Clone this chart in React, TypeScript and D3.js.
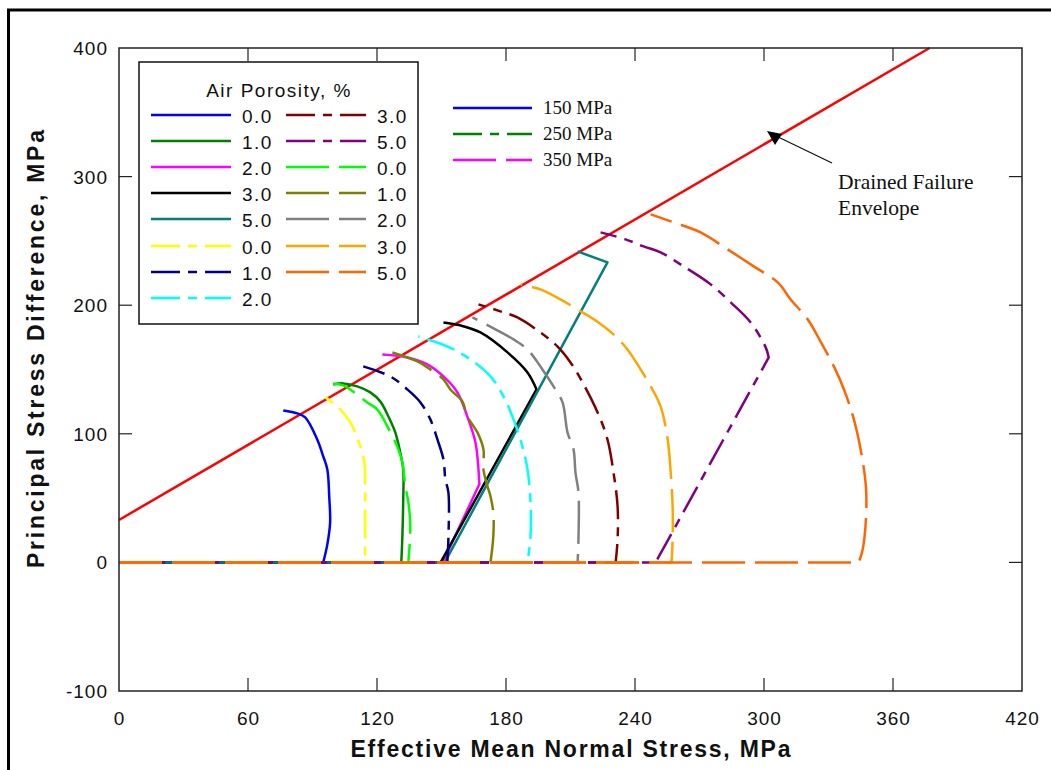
import React from "react";
import * as d3 from "d3";

// ---------- data (MPa) ----------
type Pt = [number, number];

// 150 MPa (solid)
const s150_0: Pt[] = [[0, 0], [95.0, 0], [96.9, 14.0], [98.2, 31.1], [97.8, 50.5], [96.9, 72.3], [95.0, 82.4], [92.2, 95.6], [86.6, 112.8], [82.9, 115.9], [76.4, 118.2]];
const s150_1: Pt[] = [[0, 0], [131.3, 0], [131.8, 20.2], [132.2, 49.0], [132.2, 72.3], [130.8, 85.5], [128.5, 101.1], [125.3, 113.5], [121.5, 125.2], [116.9, 132.2], [110.8, 136.9], [104.3, 139.2], [99.6, 138.4]];
const s150_2: Pt[] = [[0, 0], [150.6, 0], [167.6, 60.7], [167.2, 72.3], [165.8, 93.3], [162.0, 113.5], [157.4, 132.2], [150.9, 144.6], [143.4, 154.0], [134.1, 159.4], [122.5, 161.7]];
const s150_3: Pt[] = [[0, 0], [149.6, 0], [194.2, 134.5], [190.0, 147.7], [180.7, 163.3], [168.1, 178.8], [158.8, 184.3], [150.9, 186.6]];
const s150_5: Pt[] = [[0, 0], [151.5, 0], [227.2, 233.3], [213.3, 241.8]];

// 250 MPa (dash-dot)
const s250_0: Pt[] = [[0, 0], [114.5, 0], [114.5, 33.4], [114.5, 59.1], [114.1, 77.8], [112.2, 90.2], [107.6, 108.9], [102.0, 120.5], [94.1, 130.6]];
const s250_1: Pt[] = [[0, 0], [152.7, 0], [153.2, 17.9], [153.2, 54.4], [151.8, 64.5], [150.9, 80.1], [148.1, 95.6], [144.8, 111.2], [140.2, 124.4], [134.1, 134.5], [126.2, 144.6], [113.6, 152.4]];
const s250_2: Pt[] = [[0, 0], [190.0, 0], [191.4, 20.2], [191.4, 46.7], [190.0, 72.3], [187.6, 90.2], [183.5, 111.2], [178.8, 129.1], [172.8, 144.6], [163.4, 157.9], [152.7, 168.0], [139.2, 175.7]];
const s250_3: Pt[] = [[0, 0], [231.0, 0], [231.9, 17.9], [231.9, 43.5], [230.0, 70.0], [227.2, 95.6], [222.6, 116.6], [215.6, 140.0], [210.0, 155.5], [203.9, 168.0], [196.0, 178.8], [185.3, 190.5], [177.4, 195.2], [167.2, 200.6]];
const s250_5: Pt[] = [[0, 0], [249.6, 0], [302.2, 159.4], [300.8, 167.2], [293.8, 186.6], [284.5, 202.2], [275.2, 216.2], [262.6, 230.2], [251.9, 241.1], [244.0, 245.7], [235.6, 251.2], [224.0, 256.6]];

// 350 MPa (dashed)
const s350_0: Pt[] = [[0, 0], [134.6, 0], [135.5, 28.0], [134.6, 46.7], [133.2, 59.1], [131.8, 77.8], [129.4, 90.2], [124.8, 105.8], [120.1, 119.0], [115.5, 124.4], [104.3, 137.6], [99.6, 139.2]];
const s350_1: Pt[] = [[0, 0], [172.8, 0], [174.1, 20.2], [174.1, 38.9], [172.8, 51.3], [171.4, 59.1], [169.5, 72.3], [169.5, 87.9], [166.7, 101.1], [162.0, 113.5], [159.7, 125.2], [154.1, 134.5], [150.9, 142.3], [144.8, 150.1], [138.8, 156.3], [127.1, 163.3]];
const s350_2: Pt[] = [[0, 0], [213.3, 0], [213.7, 17.9], [213.7, 54.4], [212.3, 70.0], [211.4, 87.9], [208.6, 101.1], [206.3, 124.4], [202.1, 136.9], [196.0, 152.4], [190.0, 165.6], [183.5, 173.4], [175.1, 181.2], [164.4, 190.5]];
const s350_3: Pt[] = [[0, 0], [257.0, 0], [257.5, 17.9], [257.5, 43.5], [256.6, 70.0], [255.2, 95.6], [251.9, 121.3], [247.3, 136.9], [242.6, 150.1], [236.5, 165.6], [230.0, 177.3], [223.0, 186.6], [213.3, 196.7], [205.3, 204.5], [196.0, 212.3], [186.7, 216.2]];
const s350_5: Pt[] = [[0, 0], [344.1, 0], [345.9, 10.1], [347.4, 33.4], [347.4, 59.1], [345.2, 85.5], [341.8, 111.2], [337.2, 134.5], [332.5, 152.4], [326.5, 171.1], [320.3, 189.0], [312.4, 204.5], [306.4, 217.7], [295.2, 230.2], [283.1, 243.4], [270.5, 256.6], [258.0, 264.4], [247.3, 270.6]];

// Drained failure envelope
const envelope: Pt[] = [[0, 33], [377, 400]];

const porosityLabels = ["0.0", "1.0", "2.0", "3.0", "5.0"];
const pressureLabels = ["150 MPa", "250 MPa", "350 MPa"];
const colors150 = ["#0000FF", "#008000", "#FF00FF", "#000000", "#008080"];
const colors250 = ["#FFFF00", "#000080", "#00FFFF", "#800000", "#800080"];
const colors350 = ["#00FF00", "#808000", "#808080", "#FFA500", "#FF6600"];
const xTicks = [0, 60, 120, 180, 240, 300, 360, 420];
const yTicks = [-100, 0, 100, 200, 300, 400];

// ---------- styles ----------
const DASH_150 = "none";
const DASH_250 = "29 8 9 8";
const DASH_350 = "43 10";
const SANS = "'Liberation Sans', Arial, sans-serif";
const SERIF = "'Liberation Serif', 'Times New Roman', serif";

interface Series { pts: Pt[]; color: string; dash: string; label: string }

const series: Series[] = [
  ...[s150_0, s150_1, s150_2, s150_3, s150_5].map((p, i) => ({ pts: p, color: colors150[i], dash: DASH_150, label: porosityLabels[i] })),
  ...[s250_0, s250_1, s250_2, s250_3, s250_5].map((p, i) => ({ pts: p, color: colors250[i], dash: DASH_250, label: porosityLabels[i] })),
  ...[s350_0, s350_1, s350_2, s350_3, s350_5].map((p, i) => ({ pts: p, color: colors350[i], dash: DASH_350, label: porosityLabels[i] })),
];

export default function App() {
  const W = 1051, H = 770;
  const left = 119, right = 1022, top = 48, bottom = 691;
  const x = d3.scaleLinear().domain([0, 420]).range([left, right]);
  const y = d3.scaleLinear().domain([-100, 400]).range([bottom, top]);
  const lineLin = d3.line<Pt>().x(d => x(d[0])).y(d => y(d[1]));
  const lineCurve = d3.line<Pt>().x(d => x(d[0])).y(d => y(d[1])).curve(d3.curveCatmullRom.alpha(0.5));
  const tick = 13;
  const frameColor = "#222";

  // straight load legs (long segments) drawn linear, the rest smooth
  const pathFor = (pts: Pt[]) => {
    let k = 0;
    while (k < pts.length - 1) {
      const dx = pts[k + 1][0] - pts[k][0], dy = pts[k + 1][1] - pts[k][1];
      if (Math.hypot(dx, dy) > 30) k++; else break;
    }
    const a = lineLin(pts.slice(0, k + 1)) || "";
    if (k >= pts.length - 1) return a;
    const b = (lineCurve(pts.slice(k)) || "").replace(/^M/, "L");
    return a + b;
  };

  const legRows = [115, 141, 167, 193, 219, 246, 272, 298];
  const legendItems = series.map((s, i) => {
    const col = i < 8 ? 0 : 1;
    const row = i < 8 ? i : i - 8;
    return { ...s, col, row };
  });

  return (
    <svg width={W} height={H} style={{ position: "absolute", left: 0, top: 0, background: "#fff" }}>
      <rect x={0} y={0} width={W} height={H} fill="#fff" />
      {/* outer page border */}
      <line x1={7} y1={10} x2={W} y2={10} stroke="#000" strokeWidth={3} />
      <line x1={8.5} y1={10} x2={8.5} y2={H} stroke="#000" strokeWidth={3} />

      {/* ticks */}
      {xTicks.slice(1, -1).map(t => (
        <g key={"xt" + t}>
          <line x1={x(t)} x2={x(t)} y1={top} y2={top + tick} stroke={frameColor} strokeWidth={1.2} />
          <line x1={x(t)} x2={x(t)} y1={bottom} y2={bottom - tick} stroke={frameColor} strokeWidth={1.2} />
        </g>
      ))}
      {yTicks.slice(1, -1).map(t => (
        <g key={"yt" + t}>
          <line x1={left} x2={left + tick} y1={y(t)} y2={y(t)} stroke={frameColor} strokeWidth={1.2} />
          <line x1={right} x2={right - tick} y1={y(t)} y2={y(t)} stroke={frameColor} strokeWidth={1.2} />
        </g>
      ))}

      {/* tick labels */}
      {xTicks.map(t => (
        <text key={"xl" + t} x={x(t) + 0.5} y={725} textAnchor="middle" fontFamily={SANS} fontSize={19} letterSpacing={1} fill="#111">{t}</text>
      ))}
      {yTicks.map(t => (
        <text key={"yl" + t} x={108} y={y(t) + 7} textAnchor="end" fontFamily={SANS} fontSize={19} letterSpacing={1} fill="#111">{t}</text>
      ))}

      {/* axis titles */}
      <text x={(left + right) / 2} y={757} textAnchor="middle" fontFamily={SANS} fontWeight="bold" fontSize={23}
        textLength={440} lengthAdjust="spacing" fill="#111">Effective Mean Normal Stress, MPa</text>
      <text transform={`translate(44, 349) rotate(-90)`} textAnchor="middle" fontFamily={SANS} fontWeight="bold" fontSize={23}
        textLength={438} lengthAdjust="spacing" fill="#111">Principal Stress Difference, MPa</text>

      {/* envelope */}
      <path d={lineLin(envelope) || ""} fill="none" stroke="#FF0000" strokeWidth={2.5} />

      {/* series */}
      {series.map((s, i) => (
        <path key={"s" + i} d={pathFor(s.pts)} fill="none" stroke={s.color} strokeWidth={2.5}
          strokeDasharray={s.dash === "none" ? undefined : s.dash} strokeLinejoin="round" />
      ))}

      {/* plot frame */}
      <rect x={left} y={top} width={right - left} height={bottom - top} fill="none" stroke={frameColor} strokeWidth={1.5} />

      {/* porosity legend */}
      <rect x={139} y={62} width={279} height={262} fill="#fff" stroke="#111" strokeWidth={1.5} />
      <text x={279} y={97} textAnchor="middle" fontFamily={SANS} fontSize={19} letterSpacing={1.5} fill="#111">Air Porosity, %</text>
      {legendItems.map((s, i) => {
        const lx = s.col === 0 ? 151 : 286;
        const ly = legRows[s.row];
        return (
          <g key={"lg" + i}>
            <line x1={lx} x2={lx + 80} y1={ly} y2={ly} stroke={s.color} strokeWidth={2.5}
              strokeDasharray={s.dash === "none" ? undefined : s.dash} />
            <text x={lx + 91} y={ly + 7.5} fontFamily={SANS} fontSize={19} letterSpacing={1.5} fill="#111">{s.label}</text>
          </g>
        );
      })}

      {/* pressure legend */}
      {pressureLabels.map((lab, i) => {
        const ly = 108 + i * 26;
        const c = colors150[i];
        const dash = [DASH_150, DASH_250, DASH_350][i];
        return (
          <g key={"pl" + i}>
            <line x1={453} x2={532} y1={ly} y2={ly} stroke={c} strokeWidth={2.5}
              strokeDasharray={dash === "none" ? undefined : dash} />
            <text x={543} y={ly + 6} fontFamily={SERIF} fontSize={19} fill="#111">{lab}</text>
          </g>
        );
      })}

      {/* annotation */}
      <line x1={832} y1={163} x2={774} y2={135} stroke="#111" strokeWidth={1.3} />
      <polygon points="767,131 782,134 775,145" fill="#000" />
      <text x={838} y={189} fontFamily={SERIF} fontSize={21.5} fill="#111">Drained Failure</text>
      <text x={838} y={215} fontFamily={SERIF} fontSize={21.5} fill="#111">Envelope</text>
    </svg>
  );
}
